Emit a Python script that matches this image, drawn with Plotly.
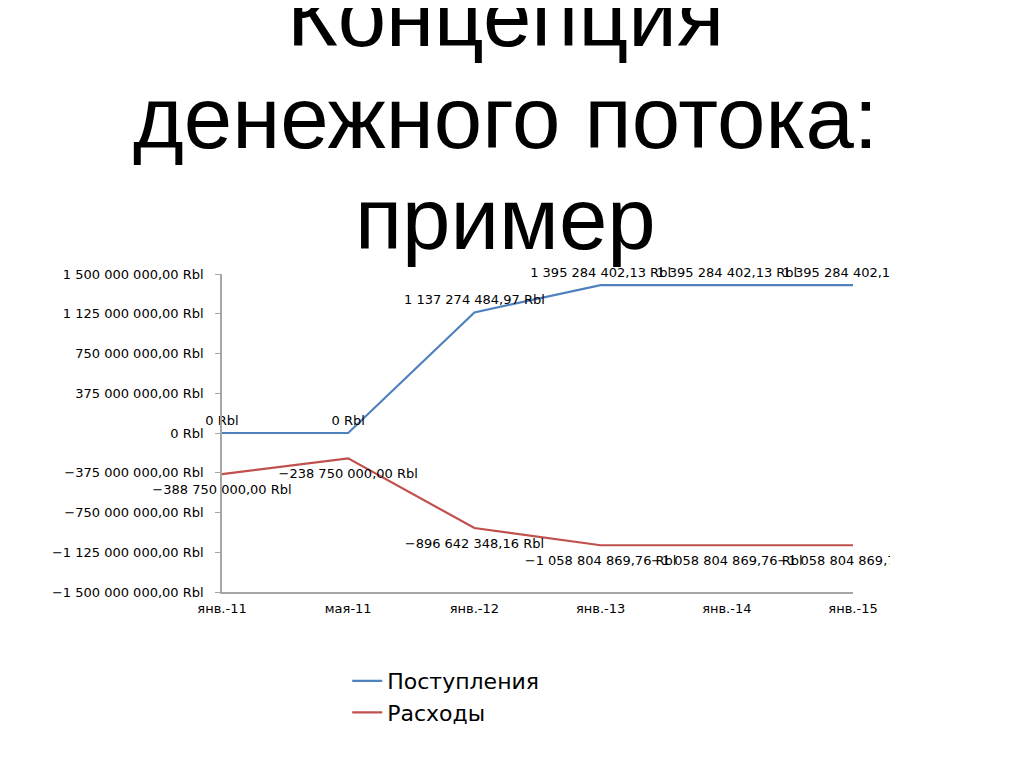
import plotly.graph_objects as go

categories = ["янв.-11", "мая-11", "янв.-12", "янв.-13", "янв.-14", "янв.-15"]
income = [0, 0, 1137274484.97, 1395284402.13, 1395284402.13, 1395284402.13]
expenses = [-388750000.00, -238750000.00, -896642348.16, -1058804869.76, -1058804869.76, -1058804869.76]
y_ticks = [1500000000, 1125000000, 750000000, 375000000, 0,
           -375000000, -750000000, -1125000000, -1500000000]
series_names = ["Поступления", "Расходы"]
title_lines = ["Концепция", "денежного потока:", "пример"]


def rub(v):
    if v == 0:
        return "0 Rbl"
    sign = "−" if v < 0 else ""
    s = f"{abs(v):,.2f}"
    intpart, dec = s.split(".")
    intpart = intpart.replace(",", " ")
    return f"{sign}{intpart},{dec} Rbl"


# page has an 8px body margin; figure coords = page coords - 8
W, H = 882, 760
L, R, T, B = 214, W - 854, 266, H - 584
pw, ph = W - L - R, H - T - B

LABEL_FONT = dict(family="DejaVu Sans", size=13, color="#000000")

fig = go.Figure()
fig.add_trace(go.Scatter(
    x=categories, y=income, name=series_names[0], mode="lines+markers+text",
    line=dict(color="#4F81BD", width=2.2),
    marker=dict(size=6, color="rgba(0,0,0,0)"),
    text=[rub(v) for v in income], textposition="top center",
    textfont=LABEL_FONT, cliponaxis=False,
))
fig.add_trace(go.Scatter(
    x=categories, y=expenses, name=series_names[1], mode="lines+markers+text",
    line=dict(color="#C0504D", width=2.2),
    marker=dict(size=14, color="rgba(0,0,0,0)"),
    text=[rub(v) for v in expenses], textposition="bottom center",
    textfont=LABEL_FONT, cliponaxis=False,
))


def px2paper_x(px):
    return (px - L) / pw


def px2paper_y(py):
    return (H - B - py) / ph


title_centers = [7, 109, 210]
for line, cy in zip(title_lines, title_centers):
    fig.add_annotation(
        text=line, x=px2paper_x(502), y=px2paper_y(cy), xref="paper", yref="paper",
        xanchor="center", yanchor="middle", showarrow=False,
        font=dict(family="Liberation Sans", size=87, color="#000000"),
    )

fig.update_layout(
    width=W, height=H,
    margin=dict(l=L, r=R, t=T, b=B, pad=0),
    paper_bgcolor="white", plot_bgcolor="white",
    showlegend=True,
    legend=dict(
        x=px2paper_x(341), y=px2paper_y(652), xanchor="left", yanchor="top",
        font=dict(family="DejaVu Sans", size=22, color="#000000"),
        bgcolor="rgba(0,0,0,0)", tracegroupgap=0, itemwidth=30,
    ),
    xaxis=dict(
        type="category", range=[0, 5], showgrid=False, zeroline=False,
        showline=True, linecolor="#a6a6a6", linewidth=1.5,
        ticks="", tickfont=LABEL_FONT, ticklabelstandoff=4,
    ),
    yaxis=dict(
        range=[-1500000000, 1500000000], showgrid=False, zeroline=False,
        showline=True, linecolor="#a6a6a6", linewidth=1.5,
        ticks="outside", ticklen=5, tickcolor="#a6a6a6",
        tickvals=y_ticks, ticktext=[rub(v) for v in y_ticks],
        tickfont=LABEL_FONT, ticklabelstandoff=9,
    ),
)

fig.write_html("out.html")
